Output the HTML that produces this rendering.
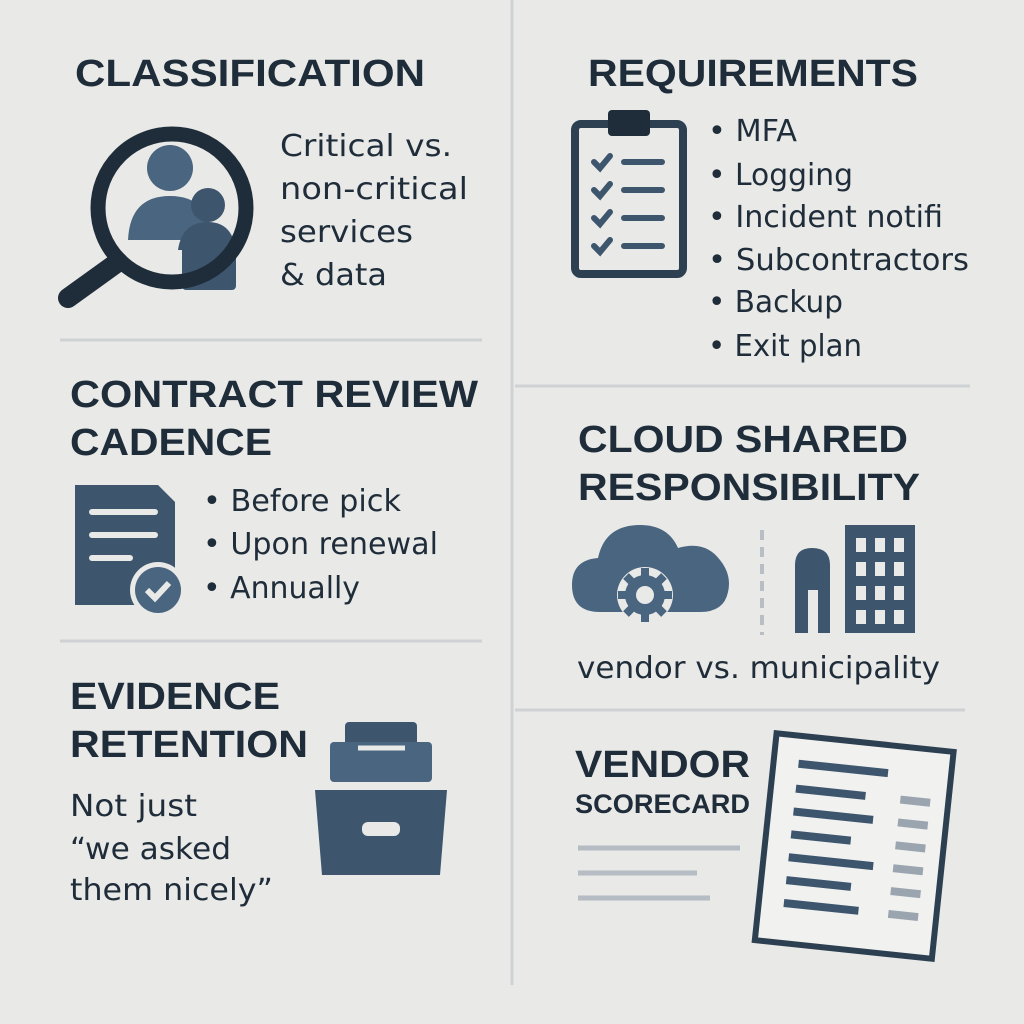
<!DOCTYPE html>
<html><head><meta charset="utf-8"><style>
html,body{margin:0;padding:0;background:#e9e9e7;}
svg{display:block}
.h{font-family:"Liberation Sans",sans-serif;font-weight:bold;fill:#1f2d3a}
.t{font-family:"DejaVu Sans","Liberation Sans",sans-serif;fill:#1f2d3a}
</style></head><body>
<svg width="1024" height="1024" viewBox="0 0 1024 1024">
<rect width="1024" height="1024" fill="#e9e9e7"/>
<g stroke="#cfd2d5" stroke-width="3">
<line x1="512" y1="0" x2="512" y2="985"/>
<line x1="60" y1="340" x2="482" y2="340"/>
<line x1="60" y1="641" x2="482" y2="641"/>
<line x1="515" y1="386" x2="970" y2="386"/>
<line x1="515" y1="710" x2="965" y2="710"/>
</g>
<text class="h" x="75" y="86" font-size="38" textLength="350" lengthAdjust="spacingAndGlyphs">CLASSIFICATION</text>
<text class="h" x="588" y="86" font-size="38" textLength="330" lengthAdjust="spacingAndGlyphs">REQUIREMENTS</text>
<text class="h" x="70" y="407" font-size="38" textLength="408" lengthAdjust="spacingAndGlyphs">CONTRACT REVIEW</text>
<text class="h" x="70" y="455" font-size="38" textLength="202" lengthAdjust="spacingAndGlyphs">CADENCE</text>
<text class="h" x="578" y="452" font-size="38" textLength="330" lengthAdjust="spacingAndGlyphs">CLOUD SHARED</text>
<text class="h" x="578" y="500" font-size="38" textLength="342" lengthAdjust="spacingAndGlyphs">RESPONSIBILITY</text>
<text class="h" x="70" y="709" font-size="38" textLength="210" lengthAdjust="spacingAndGlyphs">EVIDENCE</text>
<text class="h" x="70" y="757" font-size="38" textLength="238" lengthAdjust="spacingAndGlyphs">RETENTION</text>
<text class="h" x="575" y="777" font-size="38" textLength="175" lengthAdjust="spacingAndGlyphs">VENDOR</text>
<text class="h" x="575" y="813" font-size="27" textLength="175" lengthAdjust="spacingAndGlyphs">SCORECARD</text>
<g class="t" font-size="30">
<text x="280" y="156" textLength="172" lengthAdjust="spacingAndGlyphs">Critical vs.</text>
<text x="280" y="199" textLength="188" lengthAdjust="spacingAndGlyphs">non-critical</text>
<text x="280" y="242" textLength="133" lengthAdjust="spacingAndGlyphs">services</text>
<text x="280" y="285" textLength="107" lengthAdjust="spacingAndGlyphs">&amp; data</text>
<text x="708" y="141" textLength="89" lengthAdjust="spacingAndGlyphs">• MFA</text>
<text x="708" y="185" textLength="145" lengthAdjust="spacingAndGlyphs">• Logging</text>
<text x="708" y="227" textLength="235" lengthAdjust="spacingAndGlyphs">• Incident notifi</text>
<text x="708" y="270" textLength="261" lengthAdjust="spacingAndGlyphs">• Subcontractors</text>
<text x="708" y="312" textLength="135" lengthAdjust="spacingAndGlyphs">• Backup</text>
<text x="708" y="356" textLength="154" lengthAdjust="spacingAndGlyphs">• Exit plan</text>
<text x="203" y="511" textLength="198" lengthAdjust="spacingAndGlyphs">• Before pick</text>
<text x="203" y="554" textLength="235" lengthAdjust="spacingAndGlyphs">• Upon renewal</text>
<text x="203" y="598" textLength="157" lengthAdjust="spacingAndGlyphs">• Annually</text>
<text x="577" y="678" textLength="363" lengthAdjust="spacingAndGlyphs">vendor vs. municipality</text>
<text x="70" y="816" textLength="127" lengthAdjust="spacingAndGlyphs">Not just</text>
<text x="70" y="859" textLength="161" lengthAdjust="spacingAndGlyphs">“we asked</text>
<text x="70" y="900" textLength="203" lengthAdjust="spacingAndGlyphs">them nicely”</text>
</g>
<g>
<rect x="182" y="238" width="54" height="52" rx="4" fill="#3d566e"/>
<circle cx="170" cy="168" r="23" fill="#4a6580"/>
<path d="M128 240 Q130 196 170 196 Q210 196 212 240 Z" fill="#4a6580"/>
<circle cx="208" cy="205" r="17" fill="#3d566e"/>
<path d="M178 250 Q182 222 208 222 Q232 222 236 250 Z" fill="#3d566e"/>
<circle cx="172" cy="208" r="74" fill="none" stroke="#1f2d3a" stroke-width="15"/>
<line x1="118" y1="262" x2="68" y2="298" stroke="#1f2d3a" stroke-width="20" stroke-linecap="round"/>
</g>
<g>
<rect x="575" y="124" width="108" height="150" rx="6" fill="none" stroke="#2d4052" stroke-width="8"/>
<rect x="608" y="110" width="42" height="26" rx="4" fill="#1f2d3a"/>
<g stroke="#3d566e" stroke-width="6" fill="none" stroke-linecap="round">
<path d="M594 162 l6 6 l10 -12"/><path d="M594 190 l6 6 l10 -12"/><path d="M594 218 l6 6 l10 -12"/><path d="M594 246 l6 6 l10 -12"/>
<line x1="624" y1="162" x2="662" y2="162"/><line x1="624" y1="190" x2="662" y2="190"/><line x1="624" y1="218" x2="662" y2="218"/><line x1="624" y1="246" x2="662" y2="246"/>
</g>
</g>
<g>
<path d="M75 485 H158 L175 502 V605 H75 Z" fill="#3d566e"/>
<g stroke="#e9e9e7" stroke-width="6" stroke-linecap="round">
<line x1="92" y1="512" x2="155" y2="512"/><line x1="92" y1="535" x2="155" y2="535"/><line x1="92" y1="558" x2="130" y2="558"/>
</g>
<circle cx="158" cy="590" r="28" fill="#e9e9e7"/>
<circle cx="158" cy="590" r="23" fill="#4a6580"/>
<path d="M147 590 l8 8 l14 -15" stroke="#e9e9e7" stroke-width="6" fill="none"/>
</g>
<g>
<path d="M600 612 Q572 612 572 585 Q572 560 598 558 Q605 525 640 525 Q668 525 678 548 Q705 540 720 560 Q732 575 728 592 Q724 612 700 612 Z" fill="#4a6580"/>
<circle cx="645" cy="595" r="28" fill="#e9e9e7"/>
<g fill="#4a6580">
<circle cx="645" cy="595" r="20"/>
<g stroke="#4a6580" stroke-width="8">
<line x1="645" y1="568" x2="645" y2="622"/><line x1="618" y1="595" x2="672" y2="595"/>
<line x1="626" y1="576" x2="664" y2="614"/><line x1="664" y1="576" x2="626" y2="614"/>
</g>
</g>
<circle cx="645" cy="595" r="9" fill="#e9e9e7"/>
</g>
<line x1="762" y1="530" x2="762" y2="635" stroke="#b8bec4" stroke-width="4" stroke-dasharray="10 7"/>
<g fill="#3d566e">
<path d="M795 633 V565 Q795 548 812 548 Q830 548 830 565 V633 Z"/>
<rect x="845" y="525" width="70" height="108"/>
</g>
<g fill="#e9e9e7">
<rect x="808" y="590" width="10" height="43"/>
<rect x="856" y="538" width="10" height="14"/><rect x="875" y="538" width="10" height="14"/><rect x="894" y="538" width="10" height="14"/>
<rect x="856" y="562" width="10" height="14"/><rect x="875" y="562" width="10" height="14"/><rect x="894" y="562" width="10" height="14"/>
<rect x="856" y="586" width="10" height="14"/><rect x="875" y="586" width="10" height="14"/><rect x="894" y="586" width="10" height="14"/>
<rect x="856" y="610" width="10" height="14"/><rect x="875" y="610" width="10" height="14"/><rect x="894" y="610" width="10" height="14"/>
</g>
<g>
<rect x="345" y="722" width="72" height="60" rx="4" fill="#3d566e"/>
<rect x="330" y="742" width="102" height="40" rx="4" fill="#4a6580"/>
<line x1="358" y1="748" x2="405" y2="748" stroke="#e9e9e7" stroke-width="5"/>
<path d="M315 790 H447 L440 875 H322 Z" fill="#3d566e"/>
<rect x="362" y="822" width="38" height="14" rx="6" fill="#e9e9e7"/>
</g>
<g stroke="#b5bcc3" stroke-width="5">
<line x1="578" y1="848" x2="740" y2="848"/>
<line x1="578" y1="873" x2="697" y2="873"/>
<line x1="578" y1="898" x2="710" y2="898"/>
</g>
<g transform="rotate(6 854 848)">
<rect x="765" y="742" width="178" height="208" fill="#f1f1ef" stroke="#2d4052" stroke-width="6"/>
<g stroke="#3d566e" stroke-width="8">
<line x1="790" y1="770" x2="880" y2="770"/>
<line x1="790" y1="795" x2="860" y2="795"/><line x1="790" y1="818" x2="870" y2="818"/>
<line x1="790" y1="841" x2="850" y2="841"/><line x1="790" y1="864" x2="875" y2="864"/>
<line x1="790" y1="887" x2="855" y2="887"/><line x1="790" y1="910" x2="865" y2="910"/>
</g>
<g stroke="#9aa5b0" stroke-width="8">
<line x1="895" y1="795" x2="925" y2="795"/><line x1="895" y1="818" x2="925" y2="818"/>
<line x1="895" y1="841" x2="925" y2="841"/><line x1="895" y1="864" x2="925" y2="864"/>
<line x1="895" y1="887" x2="925" y2="887"/><line x1="895" y1="910" x2="925" y2="910"/>
</g>
</g>
</svg>
</body></html>
